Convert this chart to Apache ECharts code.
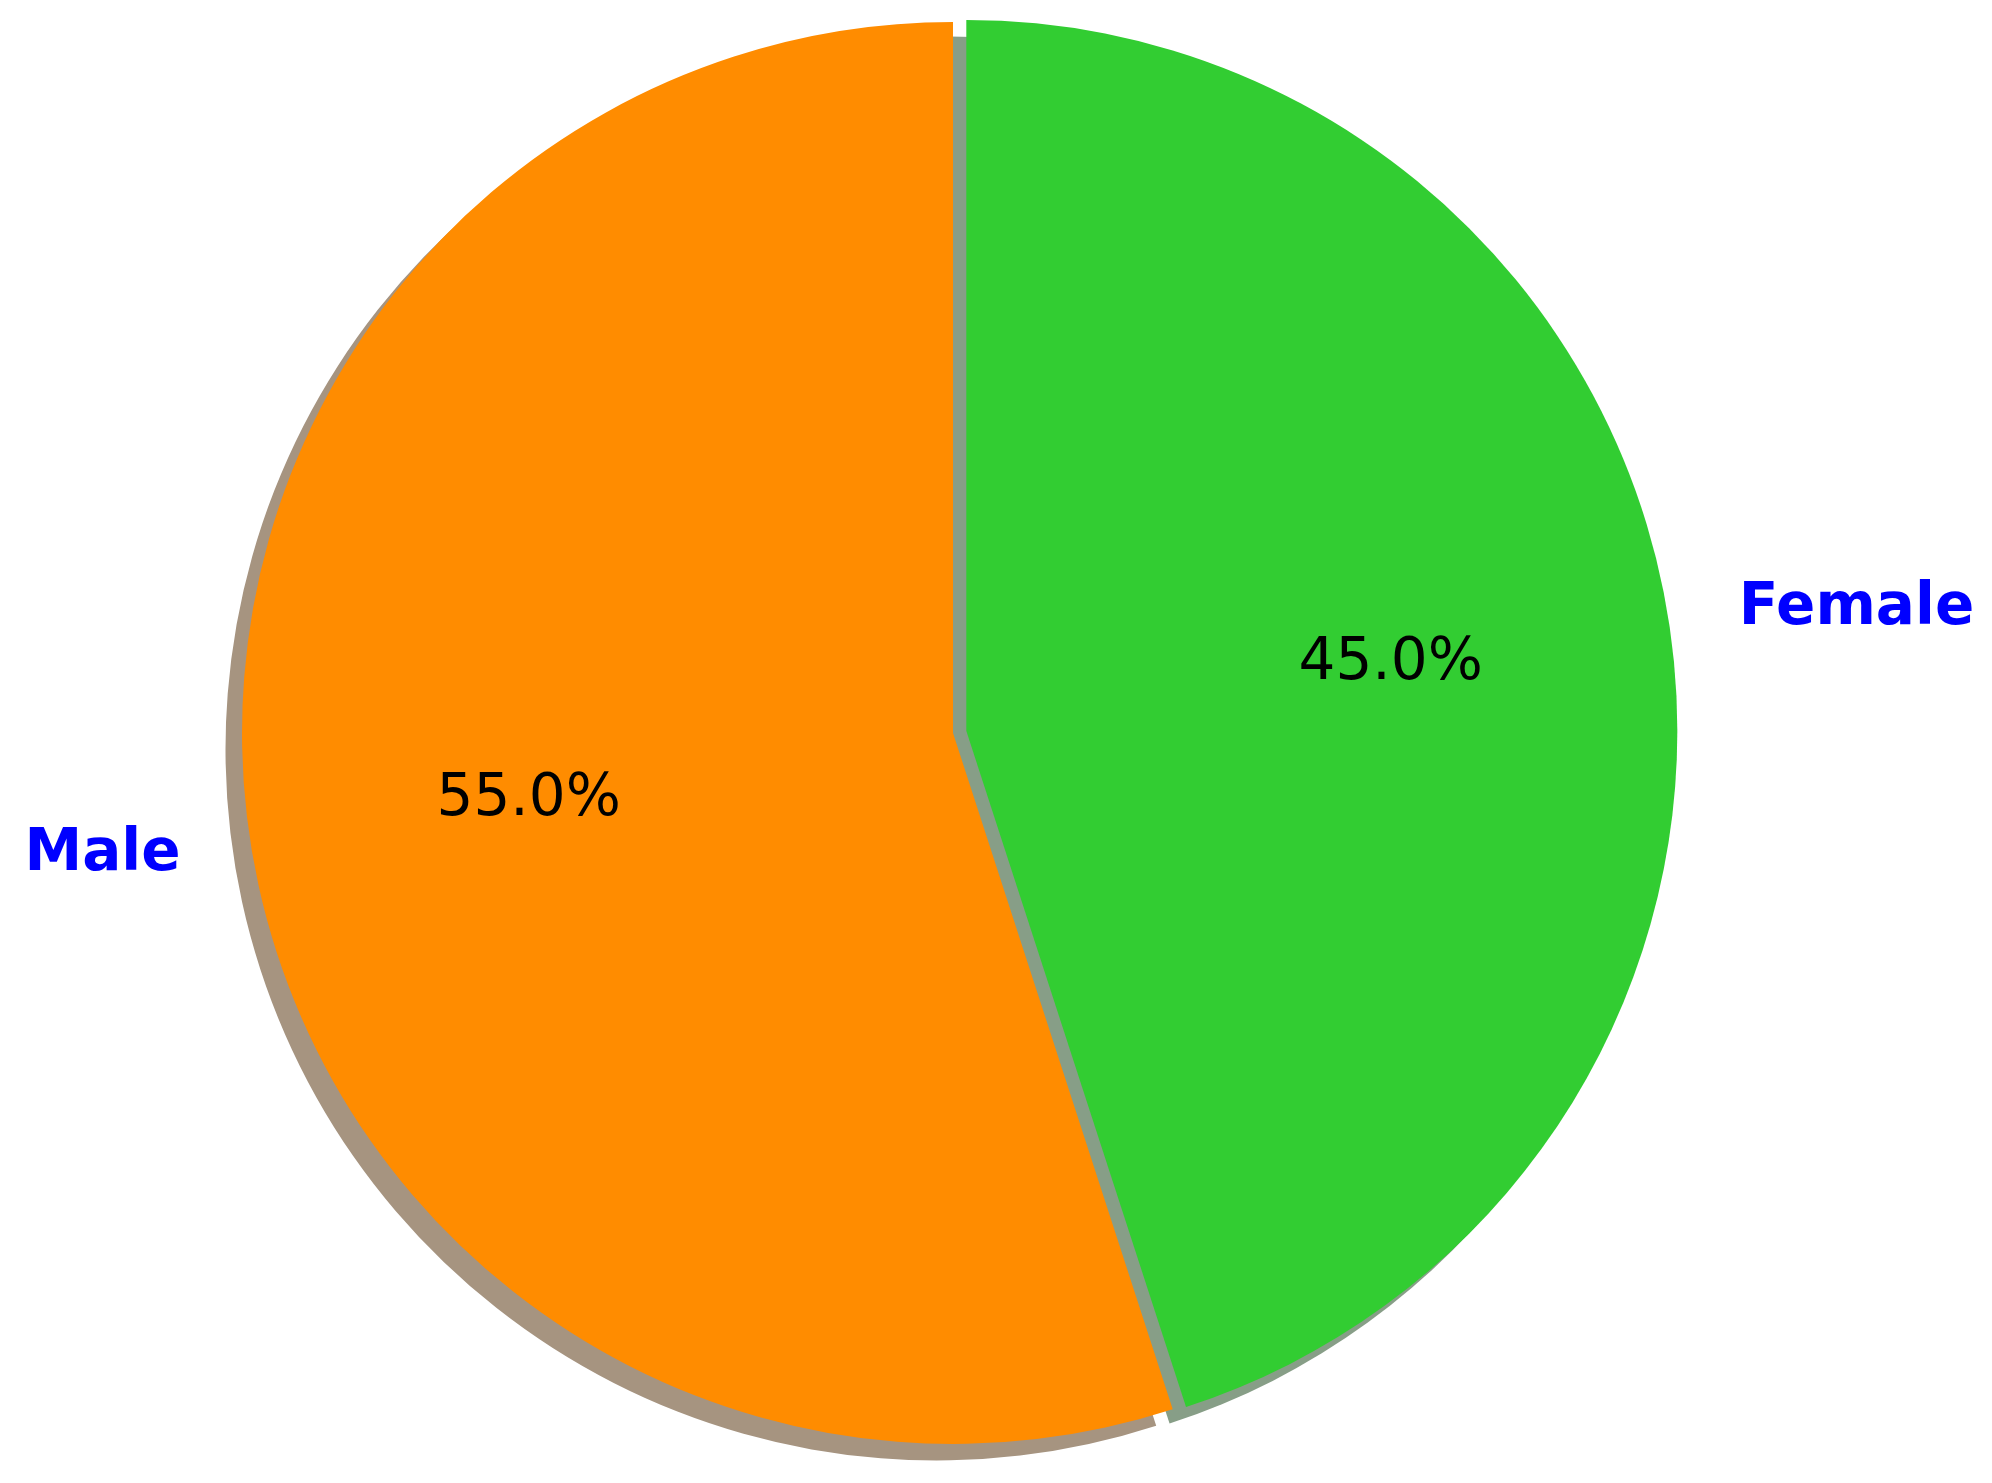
<!DOCTYPE html>
<html>
<head>
<meta charset="utf-8">
<script src="https://cdn.jsdelivr.net/npm/echarts@6/dist/echarts.min.js"></script>
<style>
html,body{margin:0;padding:0;background:#fff;}
#chart{width:1992px;height:1483px;}
</style>
</head>
<body>
<div id="chart"></div>
<script>
// ---- data ----
const categories = ['Female', 'Male'];
const values = [45, 55];
const sliceColors = ['#32cd32', '#ff8c00'];
const shadowColors = ['#879e87', '#a69480'];
const explode = [0.019, 0];

// ---- layout / style ----
const CX = 953, CY = 733, R = 711;
const SHADOW_DX = -16.5, SHADOW_DY = 16.5;
const FONT = 'DejaVu Sans';
const FONT_SIZE = 58;

const total = values.reduce((a, b) => a + b, 0);
// slice mid angles (clockwise from 90deg)
const centers = [];
let acc = 0;
values.forEach((v, i) => {
  const mid = (90 - (acc + v / 2) / total * 360) * Math.PI / 180;
  acc += v;
  const off = explode[i] * R;
  centers.push([CX + off * Math.cos(mid), CY - off * Math.sin(mid)]);
});

function sliceData(i, color, withLabel) {
  return categories.map((c, j) => ({
    name: c,
    value: values[j],
    itemStyle: { color: j === i ? color : 'transparent', borderWidth: 0 },
    label: { show: j === i && withLabel }
  }));
}

const base = {
  type: 'pie',
  startAngle: 90,
  clockwise: true,
  silent: true,
  animation: false,
  avoidLabelOverlap: false,
  emphasis: { disabled: true },
  labelLine: { show: false }
};

const series = [];
// shadows
categories.forEach((c, i) => {
  series.push(Object.assign({}, base, {
    z: 1,
    center: [centers[i][0] + SHADOW_DX, centers[i][1] + SHADOW_DY],
    radius: [0, R],
    label: { show: false },
    data: sliceData(i, shadowColors[i], false)
  }));
});
// wedges with outer category labels
categories.forEach((c, i) => {
  series.push(Object.assign({}, base, {
    z: 2,
    center: centers[i],
    radius: [0, R],
    label: {
      position: 'outside',
      formatter: '{b}',
      fontFamily: FONT,
      fontWeight: 'bold',
      fontSize: FONT_SIZE,
      color: '#0000ff',
      distanceToLabelLine: 0
    },
    labelLine: { show: false, length: 0.1 * R, length2: 0 },
    data: sliceData(i, sliceColors[i], true)
  }));
});
// percentage labels (transparent ring placing label at 0.6 R)
categories.forEach((c, i) => {
  series.push(Object.assign({}, base, {
    z: 3,
    center: centers[i],
    radius: [0.5 * R, 0.7 * R],
    label: {
      position: 'inside',
      formatter: p => p.percent.toFixed(1) + '%',
      fontFamily: FONT,
      fontSize: FONT_SIZE,
      color: '#000000'
    },
    data: sliceData(i, 'transparent', true)
  }));
});

const chart = echarts.init(document.getElementById('chart'), null, { renderer: 'canvas' });
chart.setOption({
  backgroundColor: '#ffffff',
  animation: false,
  series: series
});
</script>
</body>
</html>
